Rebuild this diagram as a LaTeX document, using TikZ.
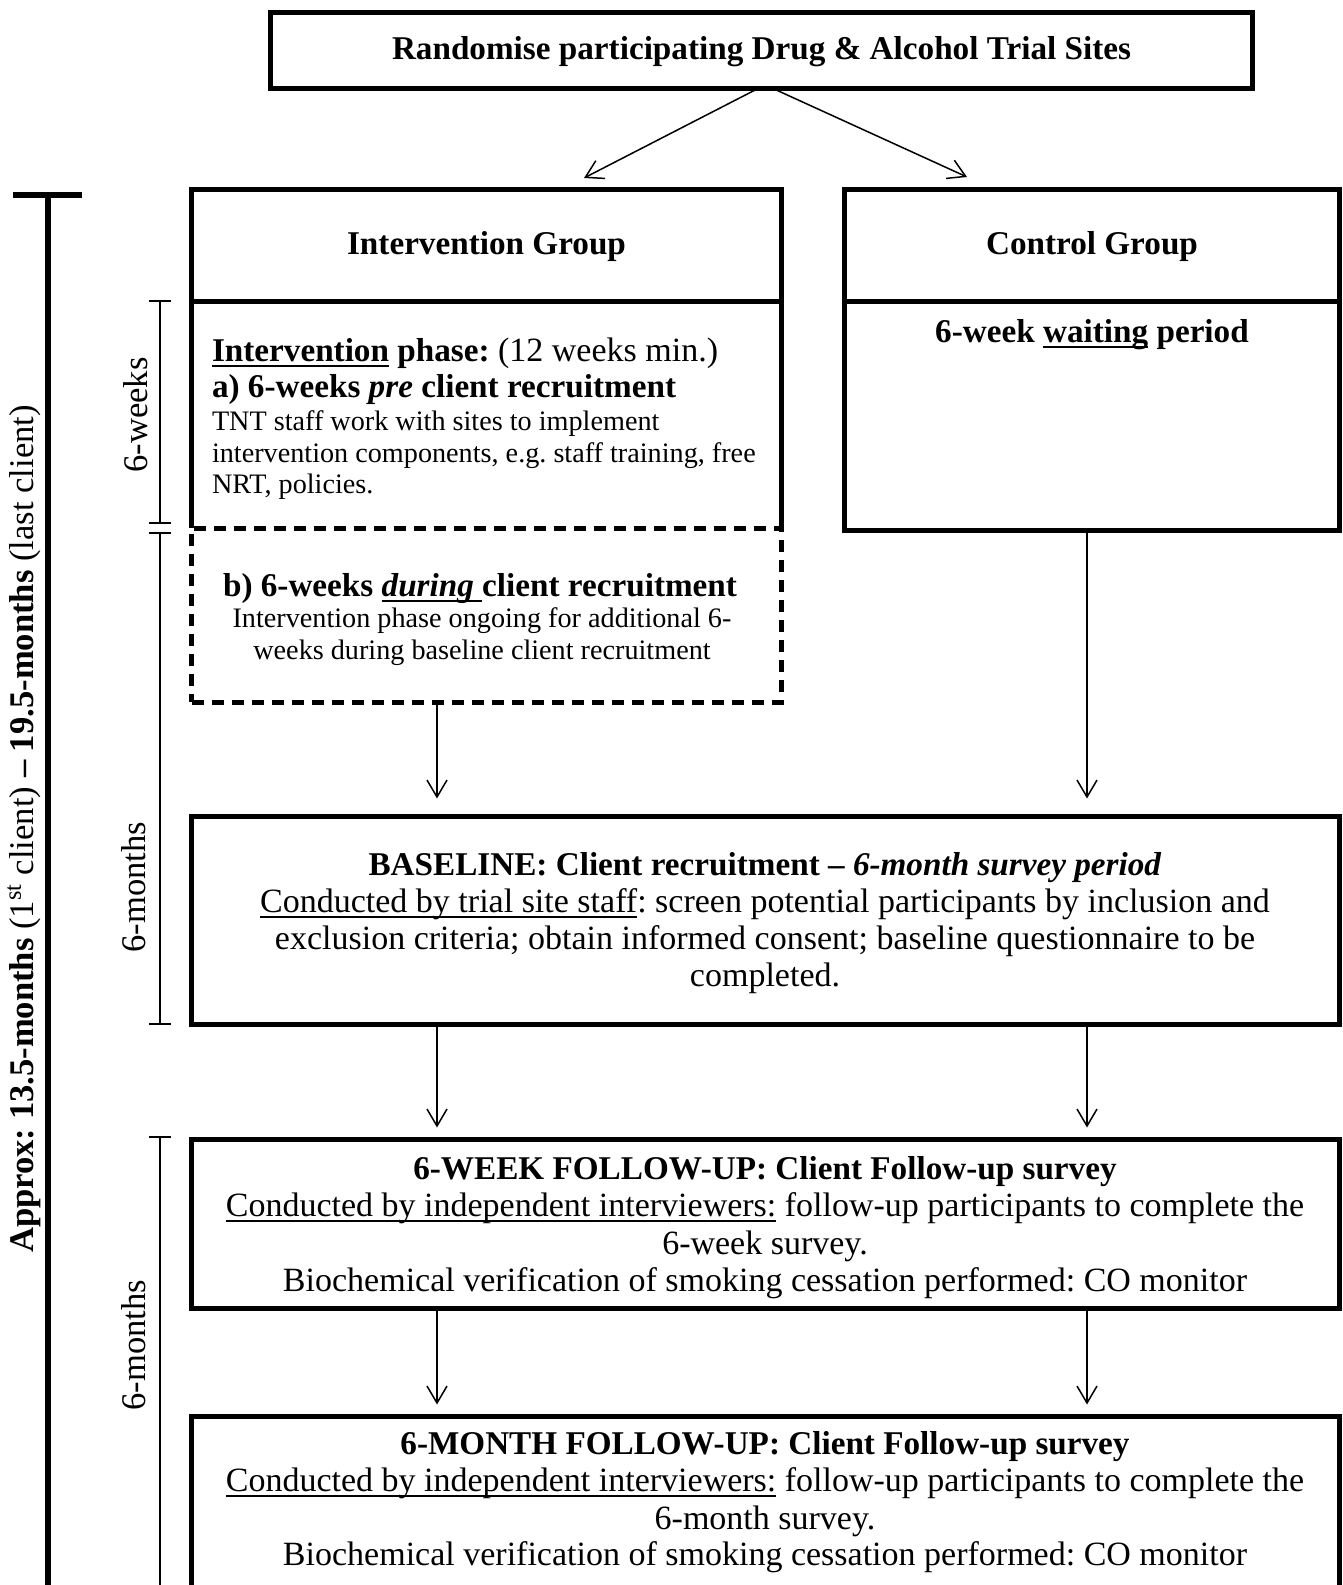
\documentclass[tikz,border=0pt]{standalone}
\usepackage{fontspec}
\setmainfont{Liberation Serif}
\usetikzlibrary{arrows.meta,calc}
\frenchspacing
\newcommand{\bodysize}{\fontsize{17}{19}\selectfont}
\newcommand{\boldsz}{\fontsize{16.6}{19}\selectfont}
\newcommand{\smallsz}{\fontsize{14.1}{16}\selectfont}
\newcommand{\lblsize}{\fontsize{17.3}{19}\selectfont}
\newcommand{\myul}[1]{\leavevmode\setbox0\hbox{#1}\rlap{\vrule height -2.1pt depth 2.85pt width \wd0}\box0\relax}
\begin{document}
\begin{tikzpicture}[x=0.5pt,y=-0.5pt,
  box/.style={draw, line width=2.5pt, inner sep=0pt, outer sep=0pt},
  arr/.style={line width=0.75pt, -{Straight Barb[length=8.5pt,width=10pt,line width=0.75pt]}},
  brk/.style={line width=0.75pt},
  t/.style={inner sep=0pt, outer sep=0pt, font=\bodysize\frenchspacing},
  ts/.style={inner sep=0pt, outer sep=0pt, font=\smallsz\frenchspacing},
  tb/.style={t, font=\boldsz\bfseries\frenchspacing},
  tl/.style={inner sep=0pt, outer sep=0pt, font=\lblsize, rotate=90}]
\useasboundingbox (0,0) rectangle (1343,1585);
\fill[white] (0,0) rectangle (1343,1585);
% boxes
\node[box, minimum width=491pt, minimum height=38pt] (top) at (761.5,50.5) {};
\node[box, minimum width=295pt, minimum height=55.75pt] (ihead) at (486.5,245.25) {};
\node[inner sep=0pt, outer sep=0pt, minimum width=295pt, minimum height=113.5pt] (ibody) at (486.5,414.5) {};
\draw[line width=2.5pt] (ibody.north west) -- (ibody.south west);
\draw[line width=2.5pt] (ibody.north east) -- (ibody.south east);
\node[box, dash pattern=on 6pt off 4pt, minimum width=295pt, minimum height=87pt] (idash) at (486.5,615) {};
\node[box, minimum width=247.5pt, minimum height=55.75pt] (chead) at (1092,245.25) {};
\node[box, minimum width=247.5pt, minimum height=114.5pt] (cbody) at (1092,415.5) {};
\node[box, minimum width=574pt, minimum height=104pt] (base) at (765.5,920.5) {};
\node[box, minimum width=574pt, minimum height=84.5pt] (fuw) at (765.5,1224) {};
\node[box, minimum width=574pt, minimum height=141.75pt] (fum) at (765.5,1558.25) {};
% connectors
\coordinate (tl) at (584,178);
\coordinate (tr) at (967,177);
\coordinate (colL) at (437,0);
\coordinate (colR) at (1087,0);
\draw[arr] ([xshift=-1.75pt]top.south) -- (tl);
\draw[arr] ([xshift=5.75pt]top.south) -- (tr);
\draw[arr, shorten >=9pt] (idash.south -| colL) -- (base.north -| colL);
\draw[arr, shorten >=9pt] (cbody.south -| colR) -- (base.north -| colR);
\draw[arr, shorten >=6pt] (base.south -| colL) -- (fuw.north -| colL);
\draw[arr, shorten >=6pt] (base.south -| colR) -- (fuw.north -| colR);
\draw[arr, shorten >=6pt] (fuw.south -| colL) -- (fum.north -| colL);
\draw[arr, shorten >=6pt] (fuw.south -| colR) -- (fum.north -| colR);
% timeline
\draw[line width=3pt] (13,195) -- (82,195);
\draw[line width=3pt] (48,195) -- (48,1620);
\draw[brk] (149,301) -- (171,301) (160,301) -- (160,523) (149,523) -- (171,523);
\draw[brk] (149,533) -- (171,533) (160,533) -- (160,1024) (149,1024) -- (171,1024);
\draw[brk] (149,1137) -- (171,1137) (160,1137) -- (160,1620);
\node[tl] (lw) at (136,415) {6-weeks};
\node[tl] (lm1) at (134,887) {6-months};
\node[tl] (lm2) at (134,1345) {6-months};
\node[tl] (lall) at (24,829) {\textbf{Approx: 13.5-months} (1\textsuperscript{st} client) \textbf{-- 19.5-months} (last client)};
% texts
\node[tb, anchor=base] (ttop) at (761.5,59) {Randomise participating Drug \& Alcohol Trial Sites};
\node[tb, anchor=base] (tig) at (486.5,254) {Intervention Group};
\node[tb, anchor=base] (tcg) at (1092,254) {Control Group};
\node[tb, anchor=base] (tcw) at (1092,342) {6-week \myul{waiting} period};
\node[t, anchor=base west] (ti1) at (212,361) {{\boldsz\bfseries\myul{Intervention} phase:} (12 weeks min.)};
\node[tb, anchor=base west] (ti2) at (212,397) {a) 6-weeks \textit{pre} client recruitment};
\node[ts, anchor=base west] (ti3) at (212,430) {TNT staff work with sites to implement};
\node[ts, anchor=base west] (ti4) at (212,462) {intervention components, e.g. staff training, free};
\node[ts, anchor=base west] (ti5) at (212,493) {NRT, policies.};
\node[tb, anchor=base] (td1) at (480,596) {b) 6-weeks \myul{\textit{during} }client recruitment};
\node[ts, anchor=base] (td2) at (482,627) {Intervention phase ongoing for additional 6-};
\node[ts, anchor=base] (td3) at (482,659) {weeks during baseline client recruitment};
\node[tb, anchor=base] (tb1) at (765,875) {BASELINE: Client recruitment -- \textit{6-month survey period}};
\node[t, anchor=base] (tb2) at (765,912) {\myul{Conducted by trial site staff}: screen potential participants by inclusion and};
\node[t, anchor=base] (tb3) at (765,949) {exclusion criteria; obtain informed consent; baseline questionnaire to be};
\node[t, anchor=base] (tb4) at (765,986) {completed.};
\node[tb, anchor=base] (tw1) at (765,1179) {6-WEEK FOLLOW-UP: Client Follow-up survey};
\node[t, anchor=base] (tw2) at (765,1216) {\myul{Conducted by independent interviewers:} follow-up participants to complete the};
\node[t, anchor=base] (tw3) at (765,1254) {6-week survey.};
\node[t, anchor=base] (tw4) at (765,1291) {Biochemical verification of smoking cessation performed: CO monitor};
\node[tb, anchor=base] (tm1) at (765,1454) {6-MONTH FOLLOW-UP: Client Follow-up survey};
\node[t, anchor=base] (tm2) at (765,1491) {\myul{Conducted by independent interviewers:} follow-up participants to complete the};
\node[t, anchor=base] (tm3) at (765,1529) {6-month survey.};
\node[t, anchor=base] (tm4) at (765,1565) {Biochemical verification of smoking cessation performed: CO monitor};
\end{tikzpicture}
\end{document}
